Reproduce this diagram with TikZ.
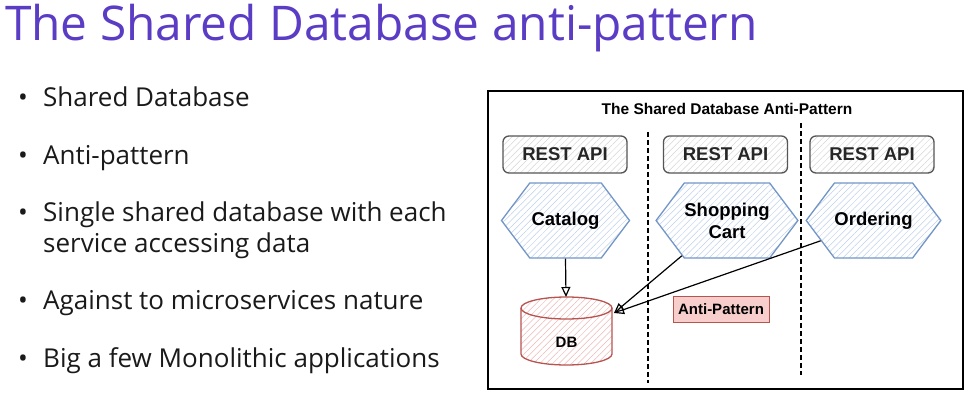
\documentclass[tikz,border=0pt]{standalone}
\usepackage{fontspec}
\setmainfont{Open Sans}
\newfontfamily\diagfont{Liberation Sans}
\usetikzlibrary{shapes.symbols,patterns.meta,arrows.meta}

\definecolor{titlepurple}{HTML}{5B3CC4}
\definecolor{bodytext}{HTML}{1A1A1A}
\definecolor{apiline}{HTML}{555555}
\definecolor{apihatch}{HTML}{D6D6D6}
\definecolor{hexline}{HTML}{7396C8}
\definecolor{hexhatch}{HTML}{BFD1EC}
\definecolor{dbline}{HTML}{B85450}
\definecolor{dbhatch}{HTML}{EDB9B6}
\definecolor{warnfill}{HTML}{F8CECC}

\tikzset{
  bulletdot/.style={anchor=base, inner sep=0, font=\fontsize{26}{30}\selectfont, text=bodytext},
  bullettext/.style={anchor=base west, inner sep=0, font=\fontsize{26}{30}\selectfont, text=bodytext},
  apibox/.style={draw=apiline, line width=1.3pt, rounded corners=6pt,
    pattern={Lines[angle=45,distance=4.5pt,line width=0.5pt]}, pattern color=apihatch,
    minimum width=124pt, minimum height=37pt, inner sep=0,
    font=\diagfont\bfseries\fontsize{18.5}{20}\selectfont, text=black!85},
  service/.style={signal, signal to=west and east, signal pointer angle=106,
    draw=hexline, line width=1.3pt,
    pattern={Lines[angle=45,distance=4.5pt,line width=0.5pt]}, pattern color=hexhatch,
    minimum width=128pt, minimum height=75pt, inner sep=0,
    font=\diagfont\bfseries\fontsize{18.5}{22}\selectfont, align=center, text=black},
  lane/.style={line width=1.5pt, dash pattern=on 5pt off 3pt},
  link/.style={line width=1.2pt, -{Triangle[open,length=10pt,width=9pt,line width=1.2pt]}},
}

\begin{document}
\begin{tikzpicture}[x=1pt,y=1pt]
  \useasboundingbox (0,0) rectangle (969,407);
  \fill[white] (0,0) rectangle (969,407);

  % slide heading
  \node[anchor=base west, inner sep=0, text=titlepurple,
        font=\fontsize{47.8}{52}\selectfont] (heading) at (5,366)
        {The Shared Database anti-pattern};

  % bullet list
  \node[bulletdot] (p1) at (23,300) {•};
  \node[bullettext] (t1) at (43,300) {Shared Database};
  \node[bulletdot] (p2) at (23,242) {•};
  \node[bullettext] (t2) at (43,242) {Anti-pattern};
  \node[bulletdot] (p3) at (23,185) {•};
  \node[bullettext] (t3) at (43,185) {Single shared database with each};
  \node[bullettext] (t3b) at (43,154) {service accessing data};
  \node[bulletdot] (p4) at (23,97) {•};
  \node[bullettext] (t4) at (43,97) {Against to microservices nature};
  \node[bulletdot] (p5) at (23,40) {•};
  \node[bullettext] (t5) at (43,40) {Big a few Monolithic applications};

  % diagram frame
  \draw[line width=1.5pt] (488,18) rectangle (963,316);
  \node[font=\diagfont\bfseries\fontsize{15.5}{17}\selectfont, inner sep=0] (dtitle)
        at (727,298) {The Shared Database Anti-Pattern};

  % lane separators
  \coordinate (s1top) at (648,275);
  \coordinate (s1bot) at (648,24);
  \coordinate (s2top) at (801,284);
  \coordinate (s2bot) at (801,32);
  \draw[lane] (s1top) -- (s1bot);
  \draw[lane] (s2top) -- (s2bot);

  % REST API facades
  \node[apibox] (api1) at (565,252.5) {REST API};
  \node[apibox] (api2) at (725.5,252.5) {REST API};
  \node[apibox] (api3) at (872,252.5) {REST API};

  % services
  \node[service] (catalog) at (565.5,186.5) {Catalog};
  \node[service] (cart) at (727,186.5) {Shopping\\Cart};
  \node[service] (ordering) at (873.5,186.5) {Ordering};

  % shared database
  \draw[dbline, line width=1.3pt,
        pattern={Lines[angle=45,distance=4.5pt,line width=0.5pt]}, pattern color=dbhatch]
    (521,99) -- (521,53) arc[start angle=180, end angle=360, x radius=45.5, y radius=11]
    -- (612,99) arc[start angle=0, end angle=180, x radius=45.5, y radius=11] -- cycle;
  \draw[dbline, line width=1.3pt]
    (521,99) arc[start angle=180, end angle=360, x radius=45.5, y radius=11];
  \node[font=\diagfont\bfseries\fontsize{15}{17}\selectfont, inner sep=0] (db)
        at (566.5,65) {DB};
  \coordinate (dbtop) at (566,110);
  \coordinate (dbside) at (614,94);

  % label
  \node[draw=dbline, fill=warnfill, line width=0.8pt, minimum width=96pt,
        minimum height=26pt, inner sep=0,
        font=\diagfont\bfseries\fontsize{15}{17}\selectfont] (anti)
        at (721,98) {Anti-Pattern};

  % data access
  \draw[link] (catalog.south) -- (dbtop);
  \draw[link] (cart.218) -- (dbside);
  \draw[link] (ordering.201) -- (dbside);
\end{tikzpicture}
\end{document}
